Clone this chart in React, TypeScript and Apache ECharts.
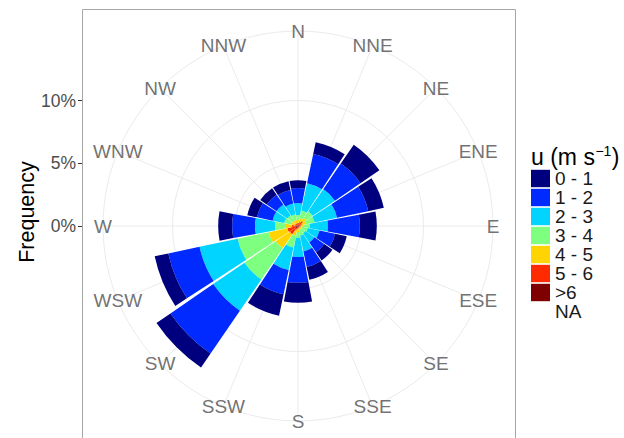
import React, { useEffect, useRef } from "react";
import * as echarts from "echarts";

// ---------- data ----------
const directions = ["N", "NNE", "NE", "ENE", "E", "ESE", "SE", "SSE", "S", "SSW", "SW", "WSW", "W", "WNW", "NW", "NNW"];
const speedBins = ["0 - 1", "1 - 2", "2 - 3", "3 - 4", "4 - 5", "5 - 6", ">6", "NA"];
const binColors = ["#00007F", "#002AFF", "#00D4FF", "#7FFF7F", "#FFD400", "#FF2A00", "#7F0000", "#FFFFFF"];

// frequency (%) of each wind-speed bin per direction (order of `directions`)
const freq0to1 = [0.63, 0.95, 1.83, 1.27, 1.35, 0.95, 0.79, 1.03, 1.59, 1.75, 1.35, 1.11, 1.11, 0.79, 0.63, 0.71];
const freq1to2 = [1.19, 2.38, 2.46, 2.54, 2.54, 1.27, 0.95, 1.27, 2.06, 1.98, 4.13, 2.54, 1.83, 1.27, 0.95, 1.11];
const freq2to3 = [0.95, 2.22, 2.14, 1.83, 1.43, 0.95, 0.87, 1.27, 1.51, 1.83, 3.02, 3.1, 1.59, 0.95, 1.03, 0.87];
const freq3to4 = [0.4, 0.63, 0.63, 0.71, 0.48, 0.48, 0.4, 0.48, 0.48, 0.95, 3.02, 2.54, 0.87, 0.56, 0.56, 0.48];
const freq4to5 = [0.24, 0.32, 0.32, 0.32, 0.24, 0.16, 0.16, 0.16, 0.24, 0.48, 1.35, 1.51, 0.48, 0.32, 0.24, 0.24];
const freq5to6 = [0.16, 0.24, 0.32, 0.24, 0.16, 0.08, 0.12, 0.08, 0.16, 0.24, 0.56, 0.63, 0.32, 0.16, 0.16, 0.16];
const freqAbove6 = [0.08, 0.08, 0.16, 0.08, 0.08, 0.08, 0.04, 0.08, 0.08, 0.08, 0.24, 0.24, 0.16, 0.08, 0.08, 0.08];
const freqNA: number[] = [];

const radialTicks = [0, 5, 10];

// ---------- layout ----------
const FONT = "'Liberation Sans', Arial, Helvetica, sans-serif";
const CX = 298;
const CY = 226;
const PX_PER_PCT = 12.55;
const R_OUT = 195; // label / outer grid circle
const R_MAX = R_OUT / PX_PER_PCT;
const R_TOP_TICK = radialTicks[radialTicks.length - 1] * PX_PER_PCT;
const GRID = "#ebebeb";

function textWidth(text: string, size: number): number {
  const ctx = document.createElement("canvas").getContext("2d");
  if (!ctx) return text.length * size * 0.55;
  ctx.font = `${size}px ${FONT}`;
  return ctx.measureText(text).width;
}

export default function App() {
  const ref = useRef<HTMLDivElement>(null);

  useEffect(() => {
    if (!ref.current) return;
    const chart = echarts.init(ref.current, null, { renderer: "svg" });

    // stacking goes from center outward: fastest first
    const stackOrder: [string, number[]][] = [
      [">6", freqAbove6],
      ["5 - 6", freq5to6],
      ["4 - 5", freq4to5],
      ["3 - 4", freq3to4],
      ["2 - 3", freq2to3],
      ["1 - 2", freq1to2],
      ["0 - 1", freq0to1],
      ["NA", freqNA],
    ];

    const barSeries = stackOrder.map(([name, values]) => ({
      name,
      type: "bar",
      coordinateSystem: "polar",
      polarIndex: 0,
      stack: "wind",
      data: values,
      barCategoryGap: "6%",
      itemStyle: { color: binColors[speedBins.indexOf(name)] },
      z: 3,
    }));

    // legend title: u (m s^-1)
    const TITLE_X = 531;
    const TITLE_SIZE = 23;
    const SUP_SIZE = 14;
    const mainPart = "u (m s";
    const supPart = "−1";
    const wMain = textWidth(mainPart, TITLE_SIZE);
    const wSup = textWidth(supPart, SUP_SIZE);

    const option: any = {
      animation: false,
      textStyle: { fontFamily: FONT },
      polar: [
        { center: [CX, CY], radius: R_OUT },
        { center: [CX, CY], radius: R_OUT },
        { center: [CX, CY], radius: R_TOP_TICK },
      ],
      angleAxis: [
        {
          polarIndex: 0,
          type: "category",
          data: directions,
          startAngle: 90 + 180 / directions.length,
          clockwise: true,
          boundaryGap: true,
          show: false,
        },
        {
          polarIndex: 1,
          type: "value",
          min: 0,
          max: 360,
          interval: 360 / directions.length,
          startAngle: 90,
          clockwise: true,
          axisLine: { show: true, lineStyle: { color: GRID, width: 1 } },
          axisTick: { show: false },
          axisLabel: { show: false },
          splitLine: { show: true, lineStyle: { color: GRID, width: 1 } },
          z: 0,
        },
        {
          polarIndex: 2,
          type: "value",
          min: 0,
          max: 360,
          show: false,
        },
      ],
      radiusAxis: [
        { polarIndex: 0, type: "value", min: 0, max: R_MAX, show: false },
        { polarIndex: 1, type: "value", min: 0, max: 1, show: false },
        {
          polarIndex: 2,
          type: "value",
          min: 0,
          max: radialTicks[radialTicks.length - 1],
          interval: radialTicks[1] - radialTicks[0],
          axisLine: { show: false },
          axisTick: { show: false },
          axisLabel: { show: false },
          splitLine: { show: true, lineStyle: { color: GRID, width: 1 } },
          z: 0,
        },
      ],
      grid: {
        left: 82,
        top: CY - R_TOP_TICK,
        height: R_TOP_TICK,
        width: 433,
        outerBoundsMode: "none",
      },
      xAxis: { type: "value", min: 0, max: 1, show: false },
      yAxis: {
        type: "value",
        min: radialTicks[0],
        max: radialTicks[radialTicks.length - 1],
        interval: radialTicks[1] - radialTicks[0],
        axisLine: { show: false },
        axisTick: { show: true, length: 4, lineStyle: { color: "#333333", width: 1 } },
        axisLabel: { formatter: "{value}%", fontSize: 17.5, color: "#4d4d4d", margin: 6 },
        splitLine: { show: false },
      },
      legend: {
        data: speedBins,
        orient: "vertical",
        left: 531,
        top: 169,
        padding: 0,
        itemWidth: 19,
        itemHeight: 17.4,
        itemGap: 0,
        icon: "rect",
        selectedMode: false,
        textStyle: { fontSize: 19, color: "#1a1a1a", lineHeight: 17.4 },
      },
      graphic: [
        {
          type: "rect",
          silent: true,
          shape: { x: 82.5, y: 9.5, width: 433, height: 440 },
          style: { fill: "none", stroke: "#a6a6a6", lineWidth: 1 },
          z: 1,
        },
        {
          type: "text",
          silent: true,
          x: 27,
          y: 212,
          rotation: Math.PI / 2,
          style: {
            text: "Frequency",
            fontSize: 21.5,
            fontFamily: FONT,
            fill: "#000000",
            align: "center",
            verticalAlign: "middle",
          },
        },
        {
          type: "text",
          silent: true,
          x: TITLE_X,
          y: 157,
          style: {
            text: mainPart,
            fontSize: TITLE_SIZE,
            fontFamily: FONT,
            fill: "#000000",
            align: "left",
            verticalAlign: "middle",
          },
        },
        {
          type: "text",
          silent: true,
          x: TITLE_X + wMain + 0.5,
          y: 151,
          style: {
            text: supPart,
            fontSize: SUP_SIZE,
            fontFamily: FONT,
            fill: "#000000",
            align: "left",
            verticalAlign: "middle",
          },
        },
        {
          type: "text",
          silent: true,
          x: TITLE_X + wMain + wSup + 1,
          y: 157,
          style: {
            text: ")",
            fontSize: TITLE_SIZE,
            fontFamily: FONT,
            fill: "#000000",
            align: "left",
            verticalAlign: "middle",
          },
        },
      ],
      series: [
        ...barSeries,
        {
          type: "scatter",
          coordinateSystem: "polar",
          polarIndex: 0,
          data: directions.map((_, i) => [R_MAX, i]),
          symbolSize: 1,
          itemStyle: { color: "rgba(0,0,0,0)" },
          silent: true,
          clip: false,
          z: 10,
          label: {
            show: true,
            position: "inside",
            formatter: (p: any) => directions[p.dataIndex],
            fontSize: 19,
            color: "#4d4d4d",
            fontFamily: FONT,
          },
        },
      ],
    };

    chart.setOption(option);
    return () => chart.dispose();
  }, []);

  return (
    <div
      ref={ref}
      style={{ position: "fixed", left: 0, top: 0, width: 624, height: 438, background: "#ffffff" }}
    />
  );
}
